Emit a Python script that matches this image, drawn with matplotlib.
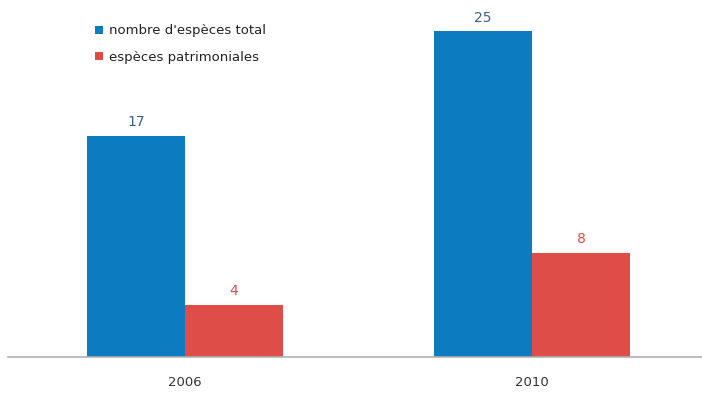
import numpy as np
import matplotlib
matplotlib.use('Agg')
import matplotlib.pyplot as plt

years = ['2006', '2010']
total_species = [17, 25]
heritage_species = [4, 8]

blue = '#0d7bbf'
red = '#df4d49'

fig = plt.figure(figsize=(7.02, 3.96), dpi=100)
ax = fig.add_axes([8 / 702, 39 / 396, 694 / 702, 357 / 396])

x = np.arange(len(years))
w = 0.283
b1 = ax.bar(x - w / 2, total_species, w, color=blue, label="nombre d'espèces total")
b2 = ax.bar(x + w / 2, heritage_species, w, color=red, label='espèces patrimoniales')

for rect, v in zip(b1, total_species):
    ax.text(rect.get_x() + rect.get_width() / 2, v + 0.5, str(v),
            ha='center', va='bottom', color='#3a5f8a', fontsize=10)
for rect, v in zip(b2, heritage_species):
    ax.text(rect.get_x() + rect.get_width() / 2, v + 0.5, str(v),
            ha='center', va='bottom', color=red, fontsize=10)

ax.set_xlim(-0.51, 1.49)
ax.set_ylim(0, 27.4)
ax.set_xticks(x)
ax.set_xticklabels(years, fontsize=9.5, color='#333333')
ax.tick_params(axis='x', length=0, pad=14)
ax.set_yticks([])
for s in ['top', 'right', 'left']:
    ax.spines[s].set_visible(False)
ax.spines['bottom'].set_color('#b0b0b0')
ax.spines['bottom'].set_linewidth(1.2)

leg = ax.legend(loc='upper left', bbox_to_anchor=(0.108, 0.965), frameon=False,
                fontsize=9.5, handlelength=0.6, handleheight=0.6,
                handletextpad=0.5, labelspacing=1.0)
for t in leg.get_texts():
    t.set_color('#222222')

fig.savefig('out.png', dpi=100)
